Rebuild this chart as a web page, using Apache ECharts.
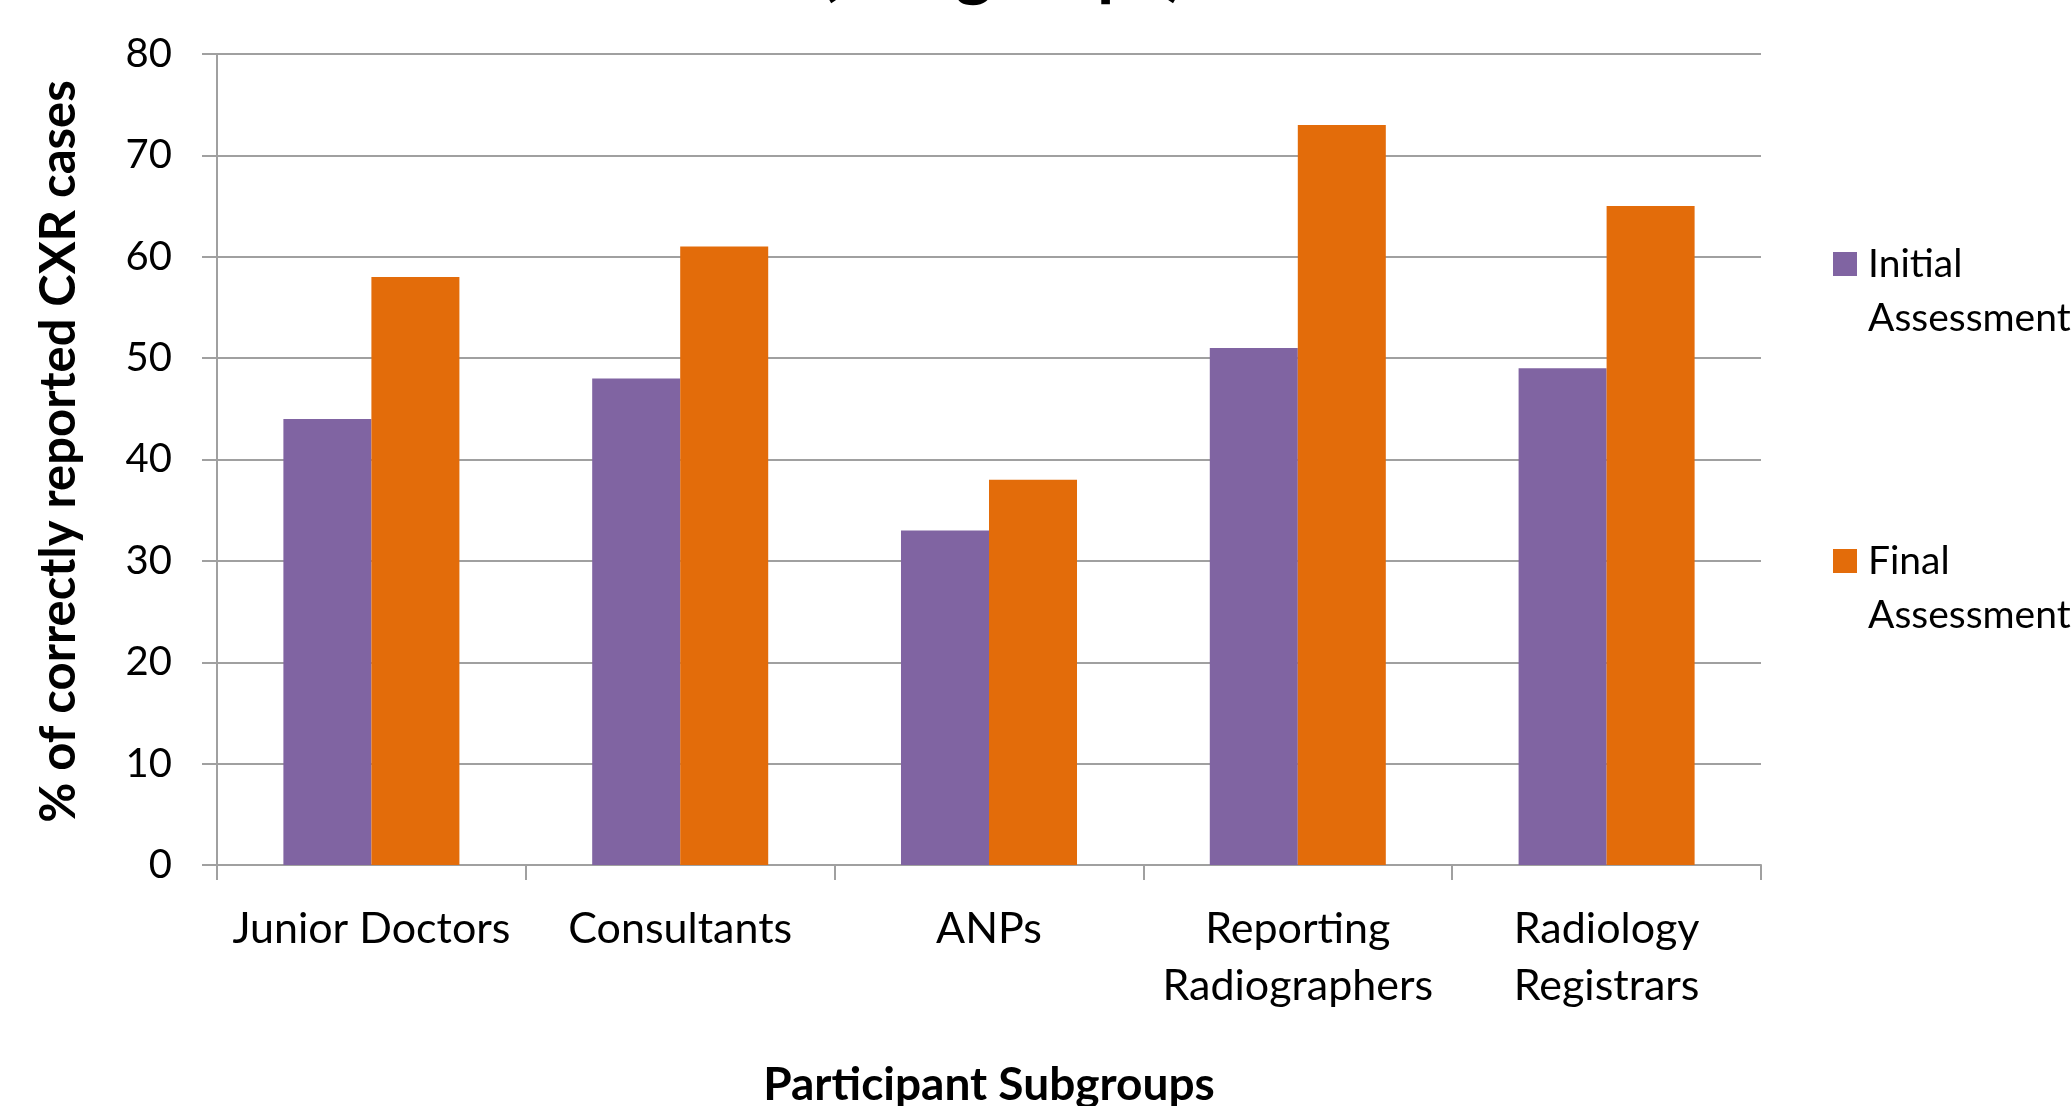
<!DOCTYPE html>
<html>
<head>
<meta charset="utf-8">
<title>Correctly reported CXR cases by participant subgroup</title>
<script src="https://cdn.jsdelivr.net/npm/echarts@6/dist/echarts.min.js"></script>
<style>
  html, body { margin: 0; padding: 0; background: #ffffff; }
  #chart { width: 2071px; height: 1106px; }
</style>
</head>
<body>
<div id="chart"></div>
<script>
// Participant subgroups shown along the x axis
const categories = ['Junior Doctors', 'Consultants', 'ANPs', 'Reporting\nRadiographers', 'Radiology\nRegistrars'];
// % of correctly reported CXR cases per subgroup
const initialAssessment = [44, 48, 33, 51, 49];
const finalAssessment = [58, 61, 38, 73, 65];
// Value axis range and step
const yMin = 0;
const yMax = 80;
const yStep = 10;

const FONT = 'Lato, "Open Sans", "Noto Sans", sans-serif';
const GRID_GREY = '#a0a0a0';

const chart = echarts.init(document.getElementById('chart'), null, { renderer: 'canvas' });

chart.setOption({
  backgroundColor: '#ffffff',
  animation: false,
  textStyle: { fontFamily: FONT, color: '#000000' },
  title: {
    text: '(Subgroups)',
    left: 819,
    top: -66,
    padding: 0,
    textStyle: { fontFamily: FONT, fontWeight: 'bold', fontSize: 70, lineHeight: 70, color: '#000000' }
  },
  legend: {
    orient: 'vertical',
    left: 1833,
    top: 183,
    padding: 0,
    itemWidth: 24,
    itemHeight: 24,
    itemGap: 135,
    icon: 'rect',
    data: ['Initial\nAssessment', 'Final\nAssessment'],
    // a leading empty line keeps the swatch level with the first word
    formatter: name => '\n' + name,
    textStyle: {
      fontFamily: FONT,
      fontSize: 39,
      lineHeight: 54,
      color: '#000000',
      padding: [0, 0, 0, 6]
    }
  },
  grid: {
    left: 217,
    right: 310,
    top: 54,
    bottom: 241,
    containLabel: false,
    outerBoundsMode: 'none'
  },
  xAxis: {
    type: 'category',
    data: categories,
    boundaryGap: true,
    name: 'Participant Subgroups',
    nameLocation: 'middle',
    nameGap: 197,
    nameTextStyle: { fontFamily: FONT, fontWeight: 'bold', fontSize: 46, lineHeight: 46, color: '#000000' },
    axisLine: { show: true, lineStyle: { color: GRID_GREY, width: 2 } },
    axisTick: { show: true, alignWithLabel: false, length: 15, lineStyle: { color: GRID_GREY, width: 2 } },
    axisLabel: {
      interval: 0,
      margin: 36,
      fontFamily: FONT,
      fontSize: 43,
      lineHeight: 57,
      color: '#000000'
    },
    splitLine: { show: false }
  },
  yAxis: {
    type: 'value',
    min: yMin,
    max: yMax,
    interval: yStep,
    name: '% of correctly reported CXR cases',
    nameLocation: 'middle',
    nameGap: 133,
    nameTextStyle: {
      fontFamily: FONT,
      fontWeight: 'bold',
      fontSize: 49,
      lineHeight: 49,
      color: '#000000',
      padding: [0, 0, 0, 16]
    },
    axisLine: { show: true, lineStyle: { color: GRID_GREY, width: 2 } },
    axisTick: { show: true, inside: false, length: 15, lineStyle: { color: GRID_GREY, width: 2 } },
    axisLabel: {
      margin: 45,
      fontFamily: FONT,
      fontSize: 40,
      color: '#000000'
    },
    splitLine: { show: true, lineStyle: { color: GRID_GREY, width: 2 } }
  },
  series: [
    {
      name: 'Initial\nAssessment',
      type: 'bar',
      data: initialAssessment,
      barGap: '0%',
      barCategoryGap: '43%',
      itemStyle: { color: '#8064a2' }
    },
    {
      name: 'Final\nAssessment',
      type: 'bar',
      data: finalAssessment,
      barGap: '0%',
      barCategoryGap: '43%',
      itemStyle: { color: '#e36c0a' }
    }
  ]
});
</script>
</body>
</html>
